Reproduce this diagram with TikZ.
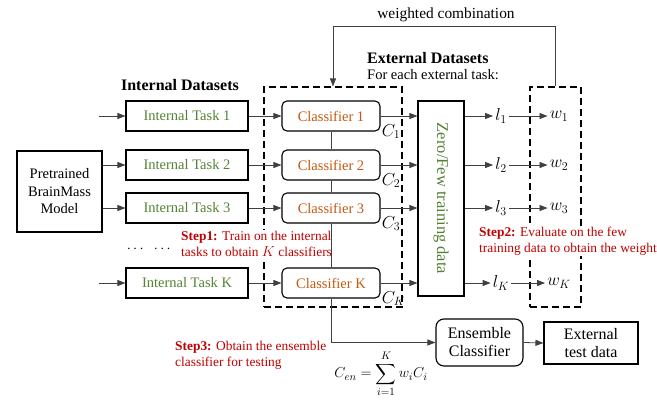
\documentclass[tikz,border=0pt]{standalone}
\usepackage{amsmath}
\usepackage{fontspec}
\setmainfont{Liberation Serif}
\usetikzlibrary{arrows.meta}
\definecolor{tgreen}{RGB}{84,130,53}
\definecolor{torange}{RGB}{197,90,17}
\definecolor{tred}{RGB}{192,0,0}
\begin{document}
\begin{tikzpicture}[x=1pt,y=-1pt,
  font=\fontsize{14.5}{17.5}\selectfont,
  box/.style={draw, line width=1.1pt, inner sep=0pt},
  taskbox/.style={box, minimum width=122pt, minimum height=30pt, text=tgreen},
  clsbox/.style={box, rounded corners=5pt, minimum width=98pt, minimum height=30pt, text=torange, fill=white},
  conn/.style={line width=0.8pt, draw=black!75},
  arr/.style={conn, -{Triangle[length=8pt,width=6pt]}},
  dbox/.style={draw, dash pattern=on 7pt off 4pt, line width=1.1pt, inner sep=0pt},
  steptext/.style={anchor=west, align=left, text=tred, fill=white, inner sep=1pt, font=\fontsize{13.4}{16}\selectfont},
  head/.style={font=\fontsize{16}{19}\selectfont\bfseries},
  clab/.style={anchor=west, inner sep=0pt, font=\fontsize{17}{20}\selectfont},
  mlab/.style={inner sep=2pt, font=\fontsize{17}{20}\selectfont},
  bigbox/.style={box, align=center, font=\fontsize{16}{18}\selectfont}
]
\useasboundingbox (0,0) rectangle (657,400);

% dashed boxes
\node[dbox, minimum width=138pt, minimum height=220pt] (lb) at (333,197) {};
\node[dbox, minimum width=51pt, minimum height=220pt] (rb) at (555.5,197) {};

% step texts with white background (break dashed lines)
\node[steptext] (s1) at (180,244) {\textbf{Step1:} Train on the internal\\tasks to obtain $K$ classifiers};
\node[steptext] (s2) at (478,241) {\textbf{Step2:} Evaluate on the few\\training data to obtain the weights};
\node[steptext, fill=none] (s3) at (174,355) {\textbf{Step3:} Obtain the ensemble\\classifier for testing};

% headings
\node[head] (hin) at (180,85) {Internal Datasets};
\node[head, anchor=west, inner sep=0pt] (hex) at (367,58) {External Datasets};
\node[anchor=west, inner sep=0pt] (hfor) at (367,75) {For each external task:};
\node[font=\fontsize{15.4}{18}\selectfont] (wc) at (446,15) {weighted combination};

% pretrained model
\node[box, minimum width=85pt, minimum height=81pt, align=center] (pre) at (59.5,191.5) {Pretrained\\BrainMass\\Model};

% internal tasks
\node[taskbox] (t1) at (187,116) {Internal Task 1};
\node[taskbox] (t2) at (187,165) {Internal Task 2};
\node[taskbox] (t3) at (187,208) {Internal Task 3};
\node[taskbox] (tK) at (187,283) {Internal Task K};
\node (dots) at (150,249) {$\cdots\;\;\cdots$};

% classifiers
\node[clsbox] (c1) at (331,116) {Classifier 1};
\node[clsbox] (c2) at (331,165) {Classifier 2};
\node[clsbox] (c3) at (331,208) {Classifier 3};
\node[clsbox] (cK) at (331,283) {Classifier K};
\node[clab] (lc1) at ([xshift=1pt]c1.south east) {$C_1$};
\node[clab] (lc2) at ([xshift=1pt]c2.south east) {$C_2$};
\node[clab] (lc3) at ([xshift=1pt]c3.south east) {$C_3$};
\node[clab] (lcK) at ([xshift=1pt]cK.south east) {$C_K$};

% zero/few box
\node[box, minimum width=46pt, minimum height=195pt, fill=white] (zf) at (441,198.5) {};
\node[rotate=-90, text=tgreen, font=\fontsize{16.5}{19}\selectfont] (zft) at (zf.center) {Zero/Few training data};

% losses and weights
\node[mlab] (l1) at (501,116) {$l_1$};
\node[mlab] (l2) at (501,165) {$l_2$};
\node[mlab] (l3) at (501,208) {$l_3$};
\node[mlab] (lK) at (501,283) {$l_K$};
\node[mlab] (w1) at (559,116) {$w_1$};
\node[mlab] (w2) at (559,165) {$w_2$};
\node[mlab] (w3) at (559,208) {$w_3$};
\node[mlab] (wK) at (559,283) {$w_K$};

% ensemble and test
\node[bigbox, rounded corners=8pt, minimum width=87pt, minimum height=47pt] (ens) at (479.5,342.5) {Ensemble\\Classifier};
\node[bigbox, minimum width=94pt, minimum height=42pt] (ext) at (591,343) {External\\test data};
\node[font=\fontsize{15}{18}\selectfont, inner sep=1pt] (form) at (381,374) {$\displaystyle C_{en}=\sum_{i=1}^{K} w_i C_i$};

% free ends
\coordinate (in1) at (99,116);
\coordinate (inK) at (99,283);

% connectors
\draw[arr] (in1) -- (t1.west);
\draw[arr] (inK) -- (tK.west);
\draw[arr] (pre.east |- t2.west) -- (t2.west);
\draw[arr] (pre.east |- t3.west) -- (t3.west);
\foreach \i in {1,2,3,K}{
  \draw[arr] (t\i.east) -- (c\i.west);
  \draw[arr] (c\i.east) -- (c\i.east -| zf.west);
  \draw[arr] (l\i -| zf.east) -- (l\i.west);
  \draw[arr] (l\i.east) -- (w\i.west);
}
\draw[conn] (c1.south) -- (c2.north);
\draw[conn] (c2.south) -- (c3.north);
\draw[conn] (c3.south) -- (cK.north);
\draw[arr] (cK.south) |- (ens.west);
\draw[arr] (ens.east) -- (ext.west);
\draw[arr] (rb.north) -- ++(0,-60) -| (lb.north);
\end{tikzpicture}
\end{document}
